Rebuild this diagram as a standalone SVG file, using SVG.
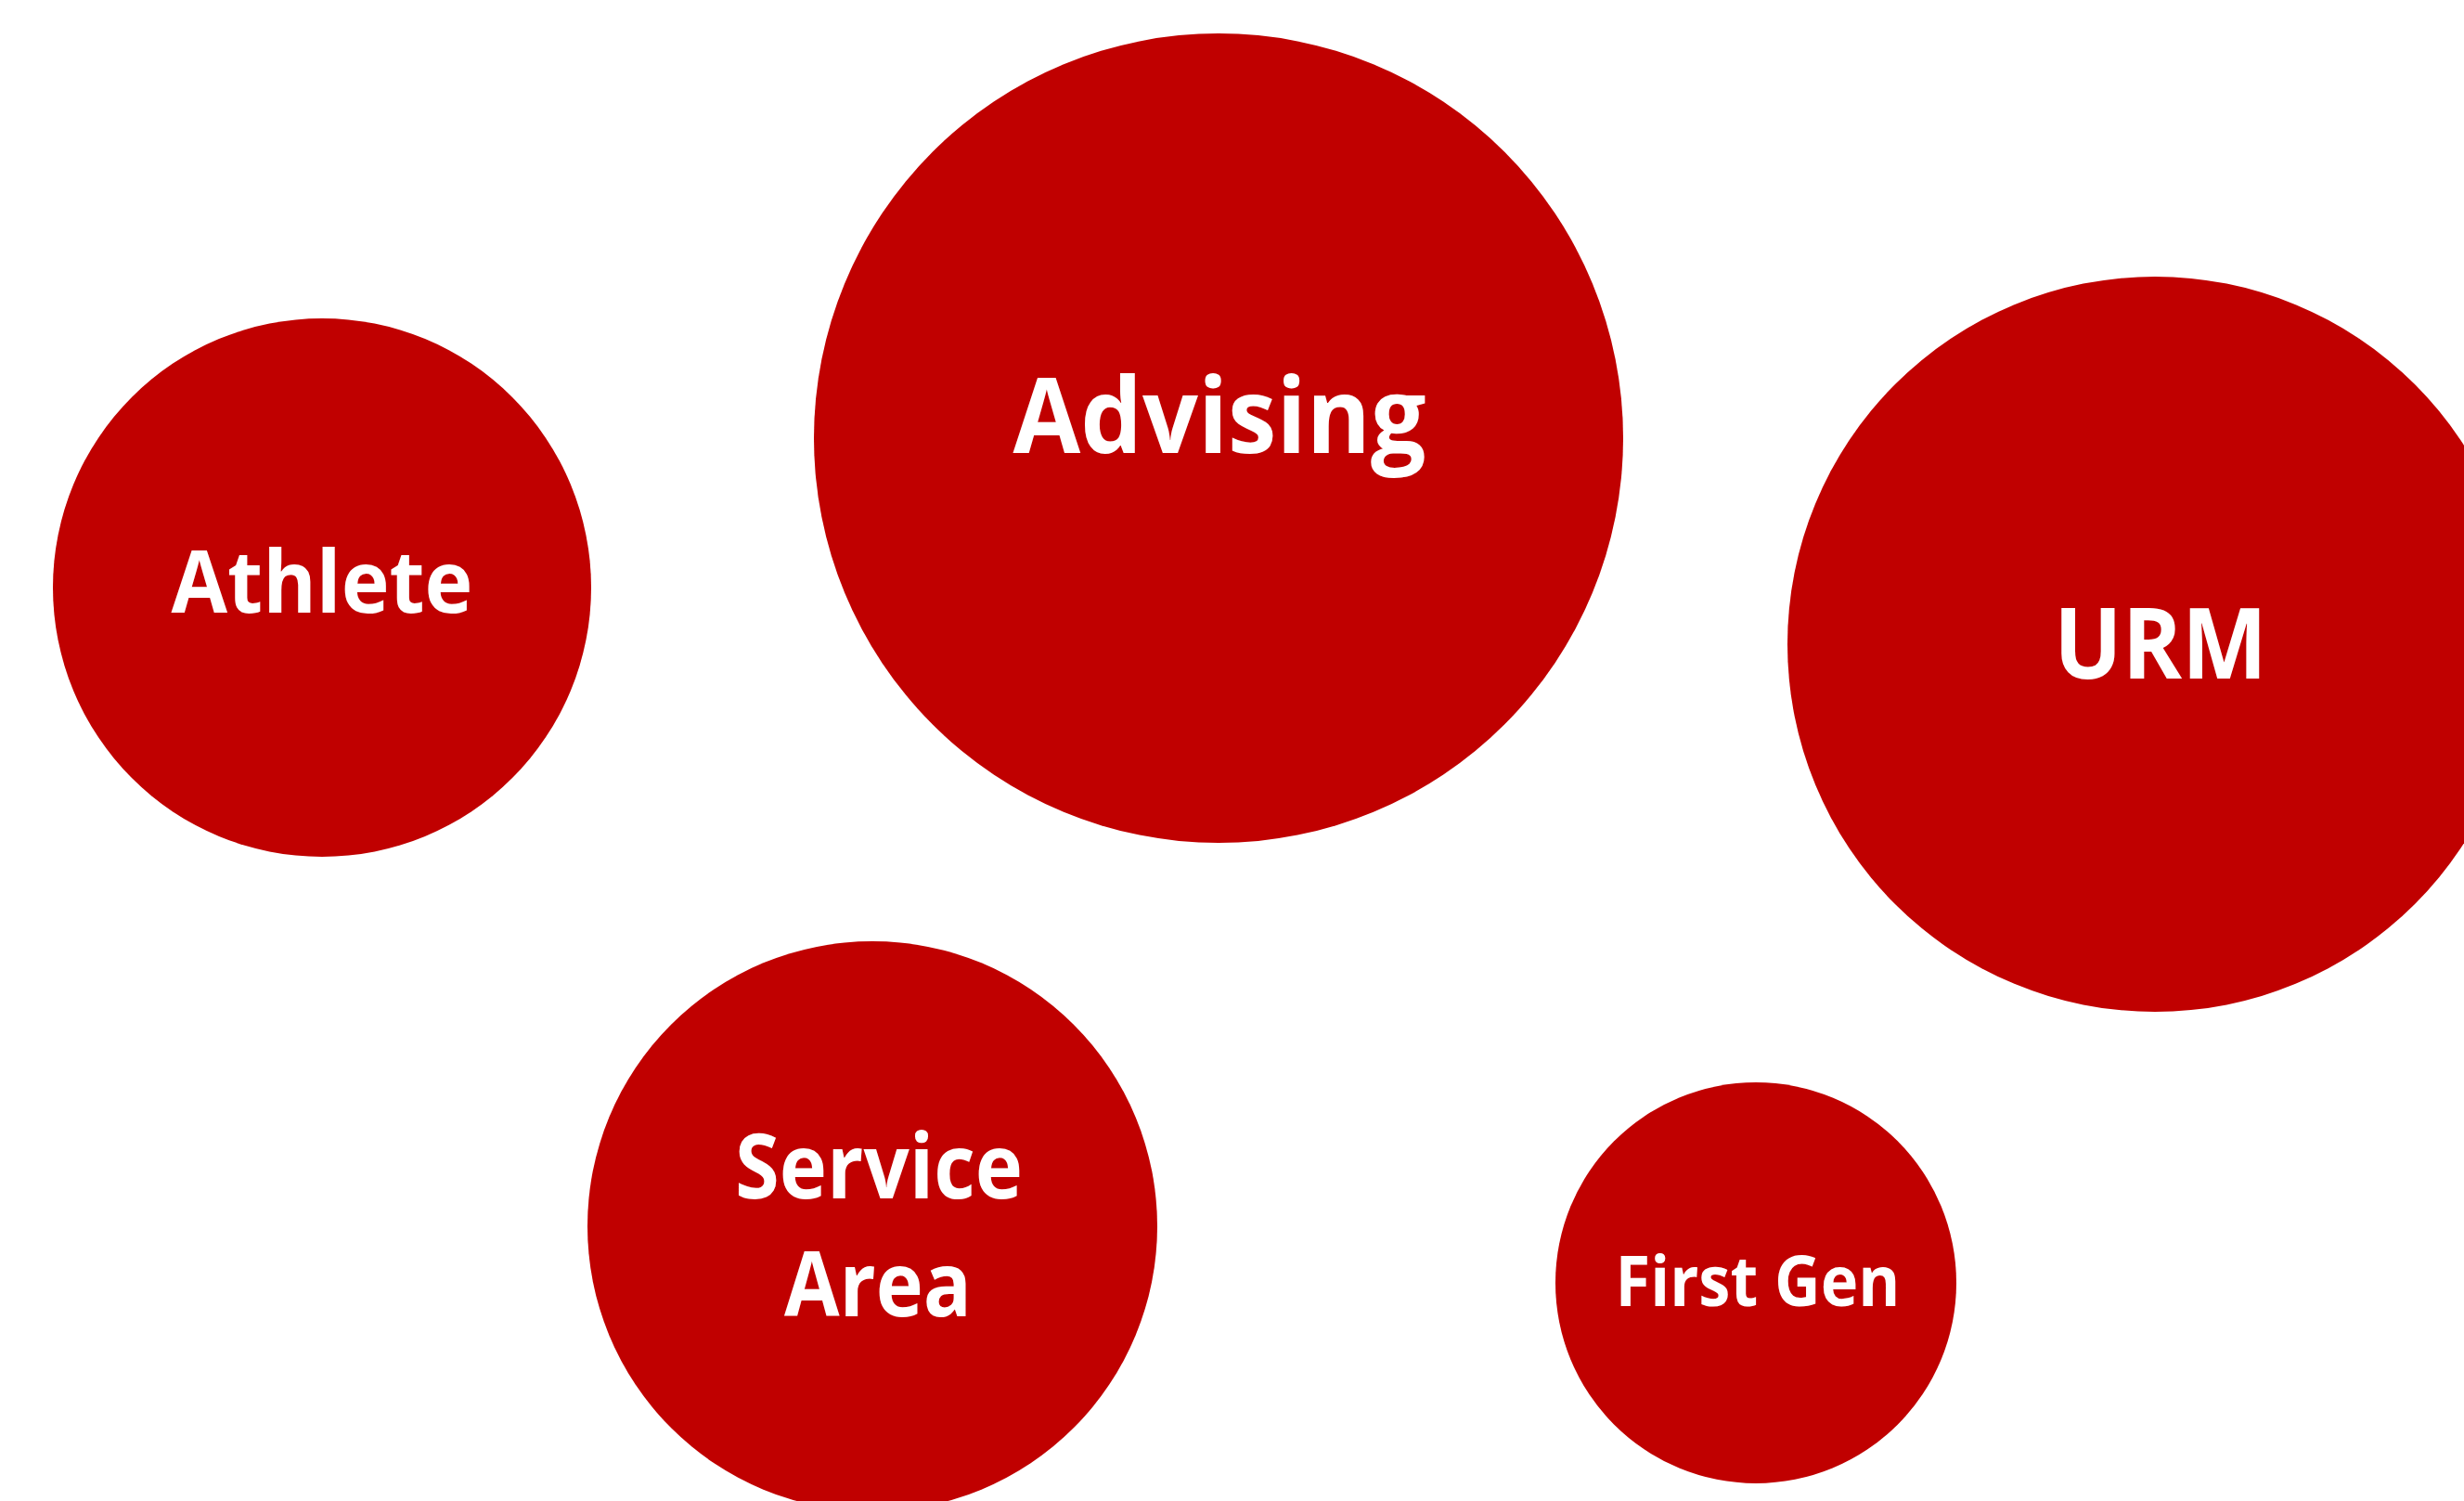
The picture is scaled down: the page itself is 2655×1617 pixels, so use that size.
<svg xmlns="http://www.w3.org/2000/svg" width="2655" height="1617" viewBox="0 0 2655 1617">
<style>
.c{fill:#C00000}
.t{font-family:"Open Sans","Noto Sans","Liberation Sans",sans-serif;font-weight:700;fill:#FFFFFF;text-anchor:middle}
</style>
<rect width="2655" height="1617" fill="#FFFFFF"/>
<g id="connectors"></g>
<g id="athlete">
<circle class="c" cx="347" cy="633" r="290"/>
<text class="t" x="347" y="660" font-size="94" textLength="325" lengthAdjust="spacingAndGlyphs">Athlete</text>
</g>
<g id="advising">
<circle class="c" cx="1313" cy="472" r="436"/>
<text class="t" x="1314" y="488" font-size="113" textLength="445" lengthAdjust="spacingAndGlyphs">Advising</text>
</g>
<g id="urm">
<circle class="c" cx="2322" cy="694" r="396"/>
<text class="t" x="2328" y="731" font-size="105" textLength="230" lengthAdjust="spacingAndGlyphs">URM</text>
</g>
<g id="service-area">
<circle class="c" cx="940" cy="1321" r="307"/>
<text class="t" x="947" y="1291" font-size="97" textLength="310" lengthAdjust="spacingAndGlyphs">Service</text>
<text class="t" x="946" y="1418" font-size="97" textLength="202" lengthAdjust="spacingAndGlyphs">Area</text>
</g>
<g id="first-gen">
<circle class="c" cx="1892" cy="1382" r="216"/>
<text class="t" x="1894" y="1407" font-size="75" textLength="307" lengthAdjust="spacingAndGlyphs">First Gen</text>
</g>
</svg>
